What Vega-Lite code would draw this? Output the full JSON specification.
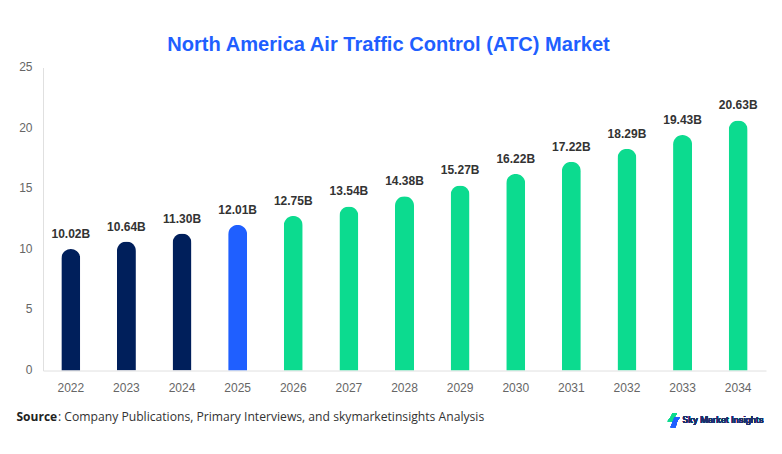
{
"$schema":"https://vega.github.io/schema/vega-lite/v6.json",
"width":723,"height":303,
"autosize":{"type":"none"},
"padding":{"left":43,"top":67.5,"right":16,"bottom":83.5},
"background":"white",
"title":{"text":"North America Air Traffic Control (ATC) Market","font":"Liberation Sans","fontWeight":"bold","fontSize":20.1,"color":"#1F5FFF","anchor":"middle","frame":"group","dx":-16,"offset":5},
"config":{"view":{"stroke":null}},
"data":{"values":[
{"year":"2022","value":10.02,"label":"10.02B","phase":"historic"},
{"year":"2023","value":10.64,"label":"10.64B","phase":"historic"},
{"year":"2024","value":11.30,"label":"11.30B","phase":"historic"},
{"year":"2025","value":12.01,"label":"12.01B","phase":"base"},
{"year":"2026","value":12.75,"label":"12.75B","phase":"forecast"},
{"year":"2027","value":13.54,"label":"13.54B","phase":"forecast"},
{"year":"2028","value":14.38,"label":"14.38B","phase":"forecast"},
{"year":"2029","value":15.27,"label":"15.27B","phase":"forecast"},
{"year":"2030","value":16.22,"label":"16.22B","phase":"forecast"},
{"year":"2031","value":17.22,"label":"17.22B","phase":"forecast"},
{"year":"2032","value":18.29,"label":"18.29B","phase":"forecast"},
{"year":"2033","value":19.43,"label":"19.43B","phase":"forecast"},
{"year":"2034","value":20.63,"label":"20.63B","phase":"forecast"}
]},
"layer":[
{"mark":{"type":"bar","width":19,"cornerRadiusTopLeft":9.5,"cornerRadiusTopRight":9.5},
"encoding":{
"x":{"field":"year","type":"ordinal","scale":{"paddingInner":0,"paddingOuter":0},
"axis":{"labelAngle":0,"labelFont":"Liberation Sans","labelFontSize":12,"labelColor":"#666666","labelPadding":11.5,"ticks":false,"domainColor":"#E0E0E0","domainWidth":1,"grid":false,
"title":": Company Publications, Primary Interviews, and skymarketinsights Analysis","titleFont":"Open Sans","titleFontWeight":"normal","titleFontSize":12.15,"titleColor":"#333333","titleAnchor":"start","titleAlign":"left","titleX":14.5,"titleY":50,"titleBaseline":"alphabetic"}},
"y":{"field":"value","type":"quantitative","scale":{"domain":[0,25],"nice":false},
"axis":{"values":[0,5,10,15,20,25],"labelFont":"Liberation Sans","labelFontSize":12,"labelColor":"#666666","labelPadding":11,"labelOffset":-1,"ticks":false,"domainColor":"#E0E0E0","domainWidth":1,"grid":false,
"title":"Source","titleFont":"Open Sans","titleFontWeight":"bold","titleFontSize":12,"titleColor":"#222222","titleAngle":0,"titleAlign":"left","titleBaseline":"alphabetic","titleX":-27,"titleY":353}},
"color":{"field":"phase","type":"nominal","scale":{"domain":["historic","base","forecast"],"range":["#001F5B","#1F5FFF","#0CDB8F"]},"legend":null}
}},
{"mark":{"type":"text","dy":-8,"baseline":"bottom","font":"Liberation Sans","fontWeight":"bold","fontSize":12,"fill":"#333333"},
"encoding":{"x":{"field":"year","type":"ordinal"},"y":{"field":"value","type":"quantitative"},"text":{"field":"label"}}},
{"mark":{"type":"text","align":"left","baseline":"middle","font":"Inter","fontWeight":500,"fontSize":8.6,"fill":"#1B2F6B","text":"Sky Market Insights"},
"encoding":{"x":{"datum":"2033","type":"ordinal"},"y":{"datum":-4.1,"type":"quantitative"}}},
{"mark":{"type":"point","filled":true,"opacity":1,"size":4,"fill":"#0CDB8F","shape":"M-10,-7L-5.5,-7L-8,-3L-5.5,-3L-7,1L-15,1L-12,-3Z"},
"encoding":{"x":{"datum":"2033","type":"ordinal"},"y":{"datum":-4.1,"type":"quantitative"}}},
{"mark":{"type":"point","filled":true,"opacity":1,"size":4,"fill":"#1F5FFF","shape":"M-8,-3L-2.5,-3L-5,0L-7,7L-12,7Z"},
"encoding":{"x":{"datum":"2033","type":"ordinal"},"y":{"datum":-4.1,"type":"quantitative"}}}
]
}
